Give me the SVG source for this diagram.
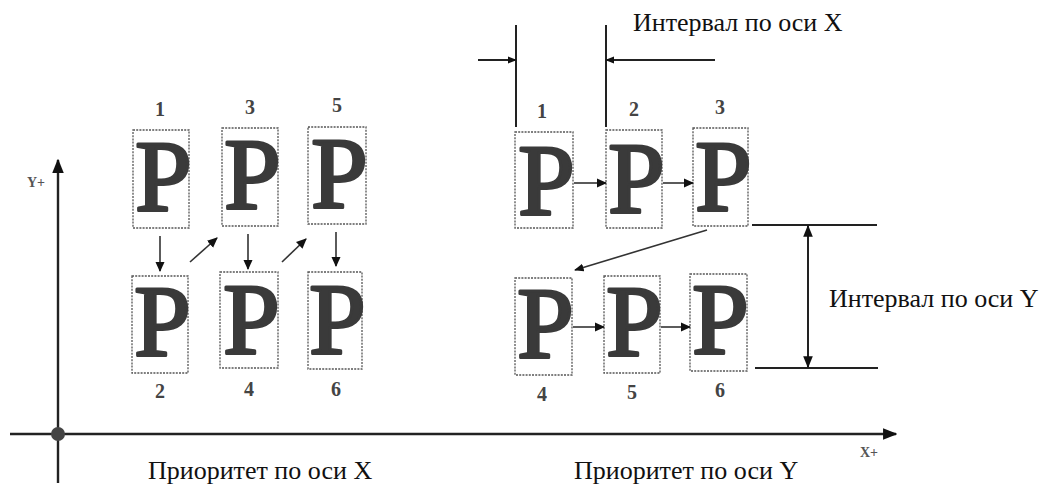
<svg xmlns="http://www.w3.org/2000/svg" width="1045" height="486" viewBox="0 0 1045 486">
<style>
.box{fill:none;stroke:#555;stroke-width:1.3;stroke-dasharray:2 1.2}
.p{font-family:"Liberation Serif",serif;font-size:102px;fill:#3a3a3a;stroke:#3a3a3a;stroke-width:3;stroke-linejoin:round}
.num{font-family:"Liberation Serif",serif;font-size:20px;font-weight:bold;fill:#444;text-anchor:middle}
.lbl{font-family:"Liberation Serif",serif;font-size:26px;fill:#111}
.ax{font-family:"Liberation Serif",serif;font-size:14px;font-weight:bold;fill:#555}
.line{stroke:#222;stroke-width:2.4;fill:none}
.arr{stroke:#333;stroke-width:1.6;fill:none}
.dim{stroke:#222;stroke-width:2;fill:none}
</style>
<defs>
<marker id="ah" viewBox="0 0 10 10" refX="9" refY="5" markerWidth="6.5" markerHeight="6.5" orient="auto" markerUnits="strokeWidth">
<path d="M0,0.5 L10,5 L0,9.5 z" fill="#111"/>
</marker>
<marker id="ahx" viewBox="0 0 10 10" refX="9" refY="5" markerWidth="4.5" markerHeight="4.5" orient="auto" markerUnits="strokeWidth">
<path d="M0,1 L10,5 L0,9 z" fill="#111"/>
</marker>
<marker id="ahy" viewBox="0 0 10 10" refX="9" refY="5" markerWidth="6" markerHeight="6" orient="auto" markerUnits="strokeWidth">
<path d="M0,1 L10,5 L0,9 z" fill="#111"/>
</marker>
<marker id="ahd" viewBox="0 0 10 10" refX="9" refY="5" markerWidth="6" markerHeight="6" orient="auto" markerUnits="strokeWidth">
<path d="M0,1 L10,5 L0,9 z" fill="#111"/>
</marker>
</defs>

<g id="axes">
<line class="line" x1="58" y1="483" x2="58" y2="160" marker-end="url(#ahd)"/>
<line class="line" x1="10" y1="434" x2="896" y2="434" marker-end="url(#ahd)"/>
<circle cx="58" cy="434" r="7" fill="#444"/>
<text class="ax" x="27" y="187">Y+</text>
<text class="ax" x="860" y="457">X+</text>
</g>

<g id="left-1"><rect class="box" x="133" y="130" width="56" height="98"/><text class="p" x="135" y="211">P</text><text class="num" x="160" y="116">1</text></g>
<g id="left-3"><rect class="box" x="222" y="128" width="56" height="98"/><text class="p" x="224" y="209">P</text><text class="num" x="250" y="114">3</text></g>
<g id="left-5"><rect class="box" x="308" y="127" width="58" height="97"/><text class="p" x="311" y="208">P</text><text class="num" x="337" y="112">5</text></g>
<g id="left-2"><rect class="box" x="132" y="276" width="56" height="97"/><text class="p" x="134" y="356">P</text><text class="num" x="160" y="398">2</text></g>
<g id="left-4"><rect class="box" x="220" y="272" width="58" height="96"/><text class="p" x="223" y="354">P</text><text class="num" x="249" y="396">4</text></g>
<g id="left-6"><rect class="box" x="308" y="272" width="54" height="97"/><text class="p" x="309" y="354">P</text><text class="num" x="336" y="396">6</text></g>

<g id="right-1"><rect class="box" x="515" y="132" width="58" height="96"/><text class="p" x="518" y="215">P</text><text class="num" x="542" y="118">1</text></g>
<g id="right-2"><rect class="box" x="606" y="130" width="56" height="98"/><text class="p" x="608" y="213">P</text><text class="num" x="634" y="116">2</text></g>
<g id="right-3"><rect class="box" x="693" y="128" width="55" height="98"/><text class="p" x="695" y="211">P</text><text class="num" x="720" y="114">3</text></g>
<g id="right-4"><rect class="box" x="515" y="278" width="57" height="97"/><text class="p" x="517" y="358">P</text><text class="num" x="542" y="401">4</text></g>
<g id="right-5"><rect class="box" x="604" y="276" width="56" height="97"/><text class="p" x="606" y="356">P</text><text class="num" x="632" y="399">5</text></g>
<g id="right-6"><rect class="box" x="690" y="274" width="57" height="97"/><text class="p" x="692" y="354">P</text><text class="num" x="720" y="397">6</text></g>

<g id="connectors">
<line class="arr" x1="160" y1="236" x2="160" y2="271" marker-end="url(#ah)"/>
<line class="arr" x1="248" y1="234" x2="248" y2="269" marker-end="url(#ah)"/>
<line class="arr" x1="336" y1="232" x2="336" y2="266" marker-end="url(#ah)"/>
<line class="arr" x1="190" y1="262" x2="217" y2="238" marker-end="url(#ah)"/>
<line class="arr" x1="282" y1="262" x2="306" y2="239" marker-end="url(#ah)"/>
<line class="arr" x1="574" y1="183" x2="606" y2="183" marker-end="url(#ah)"/>
<line class="arr" x1="663" y1="183" x2="693" y2="183" marker-end="url(#ah)"/>
<line class="arr" x1="573" y1="327" x2="604" y2="327" marker-end="url(#ah)"/>
<line class="arr" x1="661" y1="327" x2="690" y2="327" marker-end="url(#ah)"/>
<line class="arr" x1="707" y1="230" x2="575" y2="270" stroke-width="2.2" marker-end="url(#ahy)"/>
</g>

<g id="dim-x">
<line class="dim" x1="516" y1="25" x2="516" y2="127"/>
<line class="dim" x1="606" y1="25" x2="606" y2="127"/>
<line class="dim" x1="478" y1="60" x2="516" y2="60" marker-end="url(#ahx)"/>
<line class="dim" x1="715" y1="60" x2="606" y2="60" marker-end="url(#ahx)"/>
<text class="lbl" x="633" y="31">Интервал по оси X</text>
</g>

<g id="dim-y">
<line class="dim" x1="752" y1="225" x2="877" y2="225" stroke-width="2.4"/>
<line class="dim" x1="755" y1="368" x2="878" y2="368" stroke-width="2.4"/>
<line class="dim" x1="808" y1="296" x2="808" y2="226" marker-end="url(#ahy)"/>
<line class="dim" x1="808" y1="296" x2="808" y2="367" marker-end="url(#ahy)"/>
<text class="lbl" x="829" y="307">Интервал по оси Y</text>
</g>

<g id="captions">
<text class="lbl" x="148" y="479">Приоритет по оси X</text>
<text class="lbl" x="574" y="479">Приоритет по оси Y</text>
</g>
</svg>
